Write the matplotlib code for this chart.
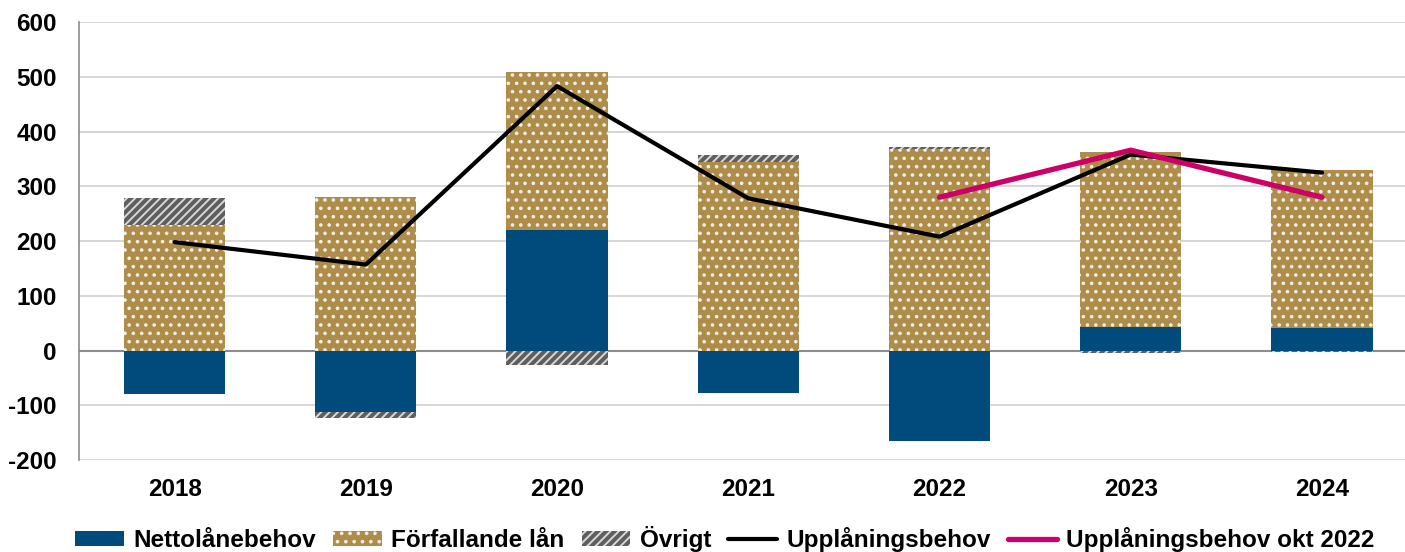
import matplotlib
matplotlib.use("Agg")
import matplotlib.pyplot as plt
import numpy as np

years = ["2018", "2019", "2020", "2021", "2022", "2023", "2024"]
netto = [-80, -112, 220, -78, -165, 43, 41]
forfallande = [229, 281, 288, 344, 368, 319, 289]
ovrigt = [49, -11, -27, 14, 4, -5, -3]
upplaning = [198, 157, 483, 278, 208, 358, 325]
upplaning_okt = [None, None, None, None, 280, 366, 280]

plt.rcParams['font.family'] = ['Liberation Sans', 'DejaVu Sans']
plt.rcParams['font.weight'] = 'bold'
plt.rcParams['hatch.linewidth'] = 1.4
plt.rcParams['axes.unicode_minus'] = False

c_netto = '#004A7C'
c_forf = '#AE8C4A'
c_ovr = '#5E5E5E'
c_pink = '#CC0066'

fig = plt.figure(figsize=(14.05, 5.52), dpi=100)
ax = fig.add_axes([0.0562, 0.1667, 0.9438, 0.7933])

x = np.arange(len(years))
w = 0.53
pos_base = np.zeros(len(years))
neg_base = np.zeros(len(years))

def stack(vals):
    vals = np.array(vals, dtype=float)
    bottoms = np.where(vals >= 0, pos_base, neg_base)
    return vals, bottoms

def update(vals):
    global pos_base, neg_base
    pos_base = pos_base + np.where(vals > 0, vals, 0)
    neg_base = neg_base + np.where(vals < 0, vals, 0)

v, b = stack(netto)
h1 = ax.bar(x, v, w, bottom=b, color=c_netto, linewidth=0, label='Nettolånebehov', zorder=2)
update(v)
v, b = stack(forfallande)
h2 = ax.bar(x, v, w, bottom=b, facecolor=c_forf, edgecolor='#F4EEE0', hatch='..', linewidth=0,
            label='Förfallande lån', zorder=2)
update(v)
v, b = stack(ovrigt)
h3 = ax.bar(x, v, w, bottom=b, facecolor=c_ovr, edgecolor='#D8D8D8', hatch='////', linewidth=0,
            label='Övrigt', zorder=2)
update(v)

l1, = ax.plot(x, upplaning, color='black', lw=3.0, label='Upplåningsbehov', zorder=3,
              solid_capstyle='round')
xo = [xi for xi, v in zip(x, upplaning_okt) if v is not None]
yo = [v for v in upplaning_okt if v is not None]
l2, = ax.plot(xo, yo, color=c_pink, lw=3.8, label='Upplåningsbehov okt 2022', zorder=4,
              solid_capstyle='round')

ax.set_ylim(-200, 600)
ax.set_yticks(range(-200, 601, 100))
ax.set_xlim(-0.5, 6.434)
ax.set_xticks(x)
ax.set_xticklabels(years)
ax.tick_params(axis='both', length=0, labelsize=17.5)
ax.tick_params(axis='y', pad=16)
ax.tick_params(axis='x', pad=13)
ax.yaxis.grid(True, color='#D0D0D0', lw=1.2, zorder=0)
ax.set_axisbelow(True)
ax.axhline(0, color='#8C8C8C', lw=1.5, zorder=1)
for s in ['top', 'right', 'bottom']:
    ax.spines[s].set_visible(False)
ax.spines['left'].set_color('#8C8C8C')
ax.spines['left'].set_linewidth(1.2)

handles = [h1, h2, h3, l1, l2]
labels = [h.get_label() for h in handles]
fig.legend(handles, labels, loc='lower center', bbox_to_anchor=(0.516, -0.04), ncol=5,
           frameon=False, fontsize=17.5, handlelength=2.0, handleheight=0.55,
           columnspacing=0.7, handletextpad=0.4)

fig.savefig('out.png', dpi=100)
